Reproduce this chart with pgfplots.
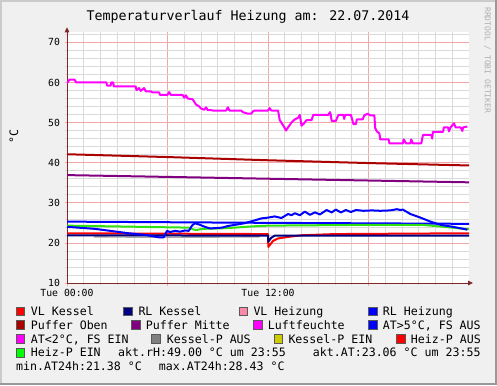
\documentclass[border=0pt]{standalone}
\usepackage{fontspec}
\setmainfont{DejaVu Sans Mono}
\usepackage{pgfplots}
\pgfplotsset{compat=1.18}
\usetikzlibrary{arrows.meta}
\definecolor{bgc}{HTML}{F0F0F0}
\definecolor{shadeA}{HTML}{CBCBCB}
\definecolor{shadeB}{HTML}{999999}
\definecolor{mingrid}{HTML}{DADADA}
\definecolor{majgrid}{HTML}{F2A8A8}
\definecolor{axiscol}{HTML}{802828}
\definecolor{cRed}{HTML}{FF0000}
\definecolor{cNavy}{HTML}{000080}
\definecolor{cPink}{HTML}{FF88AA}
\definecolor{cBlue}{HTML}{0000FF}
\definecolor{cDarkRed}{HTML}{AA0000}
\definecolor{cPurple}{HTML}{800080}
\definecolor{cMagenta}{HTML}{FF00FF}
\definecolor{cGray}{HTML}{808080}
\definecolor{cOlive}{HTML}{CCCC00}
\definecolor{cGreen}{HTML}{00FF00}
\definecolor{cGreenLine}{HTML}{30E010}
\definecolor{wmark}{HTML}{B0B0B0}
\newcommand{\legfont}{\fontsize{11.6bp}{13bp}\selectfont}
\newcommand{\legsq}[3]{\filldraw[fill=#3, draw=black!65, line width=0.5bp] (#1,#2) rectangle ++(8.5,8.5);}
\begin{document}
\begin{tikzpicture}
\begin{scope}[x=1bp,y=1bp,shift={(-67bp,-102bp)}]
\path[use as bounding box, fill=bgc] (0,0) rectangle (497,385);
\fill[shadeA] (0,0) rectangle (2,385);
\fill[shadeA] (0,383) rectangle (497,385);
\fill[shadeB] (494.5,0) rectangle (497,385);
\fill[shadeB] (0,0) rectangle (497,2.5);
\end{scope}
\begin{axis}[
  at={(0,0)}, anchor=south west,
  scale only axis, width=402bp, height=250.7bp,
  xmin=0, xmax=24, ymin=10, ymax=72.5,
  axis background/.style={fill=white},
  axis lines=left,
  x axis line style={draw=axiscol, line width=0.9bp, shorten >=-4bp, -{Triangle[length=5bp,width=4.5bp]}},
  y axis line style={draw=axiscol, line width=0.9bp, shorten >=-5bp, -{Triangle[length=5bp,width=4.5bp]}},
  xtick={0,6,12,18}, xticklabels={Tue 00:00,,Tue 12:00,},
  minor xtick={1,2,3,4,5,7,8,9,10,11,13,14,15,16,17,19,20,21,22,23},
  ytick={10,20,30,40,50,60,70},
  minor ytick={12,14,16,18,22,24,26,28,32,34,36,38,42,44,46,48,52,54,56,58,62,64,66,68,72},
  grid=both,
  major grid style={draw=majgrid, line width=0.6bp},
  minor grid style={draw=mingrid, line width=0.6bp},
  tick align=outside, major tick length=2.5bp, minor tick length=2bp,
  major tick style={draw=majgrid, line width=0.6bp},
  minor tick style={draw=mingrid, line width=0.6bp},
  tick label style={font=\fontsize{9.8bp}{11bp}\selectfont, black},
  /pgf/number format/assume math mode=true,
  yticklabel style={xshift=-1bp},
  every axis plot/.append style={line width=2bp, line join=round},
]
% Puffer Oben
\addplot[cDarkRed, mark=none] coordinates {(0,42.1) (6,41.4) (12,40.6) (18,39.9) (24,39.3)};
% Puffer Mitte
\addplot[cPurple, mark=none] coordinates {(0,36.9) (12,36.0) (24,35.1)};
% Luftfeuchte
\addplot[cMagenta, mark=none] coordinates {
(0,59.8) (0.15,60.7) (0.45,60.7) (0.55,60.0) (2.35,60.0) (2.4,59.2) (2.6,59.2) (2.65,60.0) (2.75,60.0) (2.8,59.0)
(4.1,59.0) (4.15,58.1) (4.3,58.6) (4.4,57.9) (4.6,58.6) (4.7,57.8) (5.0,57.8) (5.1,57.5) (5.5,57.5) (5.55,56.9)
(6.0,56.9) (6.1,57.6) (6.2,56.9) (6.9,56.9) (7.0,56.2) (7.1,56.8) (7.2,56.0) (7.5,55.8) (7.7,54.5) (7.9,54.0)
(8.0,53.5) (8.2,53.2) (8.3,53.8) (8.4,53.1) (8.6,53.1) (8.7,53.0) (9.5,53.0) (9.6,53.8) (9.7,53.0) (10.4,53.0)
(10.5,52.6) (10.8,52.2) (11.0,52.2) (11.1,52.8) (11.2,53.0) (12.0,53.0) (12.1,53.6) (12.2,53.0) (12.6,53.0)
(12.7,50.6) (12.95,49.0) (13.07,48.0) (13.2,48.8) (13.4,50.0) (13.6,50.8) (13.8,51.2) (13.9,51.9) (14.0,49.2)
(14.15,49.8) (14.3,50.6) (14.6,50.6) (14.7,51.9) (15.6,51.9) (15.7,52.6) (15.75,51.9) (15.8,50.4) (16.05,50.4)
(16.2,51.9) (16.5,51.9) (16.55,50.9) (16.6,51.9) (16.95,51.9) (17.1,49.6) (17.25,49.6) (17.3,50.8) (17.65,50.8)
(17.75,51.8) (17.95,52.2) (18.1,51.8) (18.35,51.8) (18.4,48.6) (18.5,47.8) (18.65,47.3) (18.7,45.8) (19.2,45.8)
(19.25,44.8) (20.05,44.8) (20.1,45.8) (20.25,44.8) (20.5,44.8) (20.55,45.8) (20.65,44.8) (21.15,44.8)
(21.25,46.9) (21.75,46.9) (21.8,46.0) (21.85,47.7) (22.45,47.7) (22.5,48.8) (22.75,48.8) (22.8,47.8) (22.9,48.8)
(23.1,49.8) (23.2,48.8) (23.5,48.8) (23.6,47.9) (23.65,48.8) (23.9,49.0)};
% RL Heizung
\addplot[cBlue, mark=none] coordinates {(0,25.3) (12,25.0) (24,24.75)};
% green (Heiz-P EIN)
\addplot[cGreenLine, mark=none] coordinates {(0,24.3) (3,24.1) (7.3,23.8) (7.5,23.4) (7.7,23.2) (8.1,23.5) (9,23.6) (10,23.8) (11,24.1) (12,24.3) (15,24.4) (18,24.5) (21.2,24.5) (22,24.2) (23,23.8) (24,23.4)};
% gray (Kessel-P AUS)
\addplot[cGray!70, mark=none, line width=1.4bp] coordinates {(1.6,21.5) (6,21.4) (11.5,21.5)};
% VL Kessel
\addplot[cRed, mark=none] coordinates {(0,22.4) (12,22.2) (12.02,19.0) (12.3,20.5) (12.6,21.1) (13.2,21.5) (14,21.9) (16,22.2) (24,22.4)};
% RL Kessel
\addplot[cNavy, mark=none] coordinates {(0,21.9) (12,21.8) (12.02,20.3) (12.2,21.3) (12.4,21.8) (24,21.8)};
% Aussentemperatur
\addplot[cBlue, mark=none] coordinates {
(0,24.0) (1.67,23.5) (3.68,22.4) (4.66,22.0) (5.47,21.4) (5.77,21.4) (5.85,22.0) (5.97,23.0) (6.15,22.7) (6.45,23.0)
(6.75,22.8) (7.04,23.1) (7.27,23.0) (7.46,24.3) (7.64,24.9) (7.94,24.5) (8.24,24.0) (8.54,23.6) (9.25,23.8) (9.6,24.2)
(10.6,24.9) (11.2,25.6) (11.6,26.1) (12.0,26.3) (12.4,26.6) (12.8,26.2) (13.2,27.2) (13.4,26.9) (13.6,27.4) (13.9,26.9)
(14.2,27.8) (14.5,27.0) (14.8,27.6) (15.1,27.1) (15.5,28.2) (15.8,27.6) (16.05,28.3) (16.35,27.6) (16.65,28.2)
(16.95,27.7) (17.25,28.2) (17.7,28.0) (18.2,28.1) (18.7,28.0) (19.3,28.1) (19.7,28.4) (19.9,28.2) (20.05,28.3)
(20.5,27.2) (21.1,26.3) (21.7,25.3) (22.3,24.5) (23.05,24.0) (23.9,23.3)};
\end{axis}
\begin{scope}[x=1bp,y=1bp,shift={(-67bp,-102bp)}]
% title
\node[anchor=base, inner sep=0] at (248,364.3) {\fontsize{13.3bp}{15bp}\selectfont Temperaturverlauf Heizung am: 22.07.2014};
% unit
\node[rotate=90, inner sep=0] at (14,248.3) {\legfont °C};
% watermark
\node[rotate=-90, anchor=west, inner sep=0, text=wmark] at (487.5,378) {\fontsize{8bp}{9bp}\selectfont RRDTOOL / TOBI OETIKER};
% legend
\begin{scope}[every node/.style={anchor=base west, inner sep=0, font=\legfont}]
\legsq{16}{69.3}{cRed} \node at (30.7,69.3) {VL Kessel};
\legsq{123.3}{69.3}{cNavy} \node at (138.3,69.3) {RL Kessel};
\legsq{239}{69.3}{cPink} \node at (253.3,69.3) {VL Heizung};
\legsq{368.3}{69.3}{cBlue} \node at (382.7,69.3) {RL Heizung};
\legsq{16}{55.9}{cDarkRed} \node at (30.7,55.9) {Puffer Oben};
\legsq{131.5}{55.9}{cPurple} \node at (145.7,55.9) {Puffer Mitte};
\legsq{253.3}{55.9}{cMagenta} \node at (267.7,55.9) {Luftfeuchte};
\legsq{368.3}{55.9}{cBlue} \node at (382.7,55.9) {AT>5°C, FS AUS};
\legsq{16}{42.0}{cMagenta} \node at (30.7,42.0) {AT<2°C, FS EIN};
\legsq{151.7}{42.0}{cGray} \node at (166.7,42.0) {Kessel-P AUS};
\legsq{274.2}{42.0}{cOlive} \node at (288.3,42.0) {Kessel-P EIN};
\legsq{396.5}{42.0}{cRed} \node at (410.7,42.0) {Heiz-P AUS};
\legsq{16}{28.2}{cGreen} \node at (30.7,28.2) {Heiz-P EIN};
\node at (118,28.2) {akt.rH:49.00 °C um 23:55};
\node at (312.7,28.2) {akt.AT:23.06 °C um 23:55};
\node at (16,14.3) {min.AT24h:21.38 °C};
\node at (158.7,14.3) {max.AT24h:28.43 °C};
\end{scope}
\end{scope}
\end{tikzpicture}
\end{document}
